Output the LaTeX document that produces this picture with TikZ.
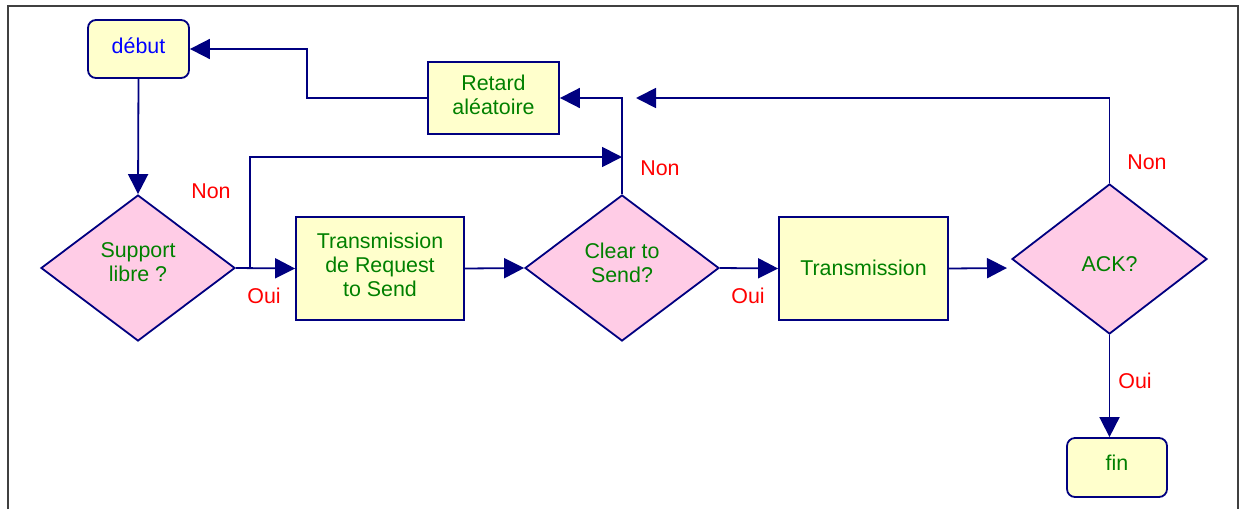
\documentclass[tikz,border=0pt]{standalone}
\usepackage{fontspec}
\setmainfont{Liberation Sans}
\usetikzlibrary{shapes.geometric,arrows.meta}
\definecolor{navy}{RGB}{0,0,128}
\definecolor{boxfill}{RGB}{255,255,204}
\definecolor{decfill}{RGB}{255,204,230}
\definecolor{txtgreen}{RGB}{0,128,0}
\definecolor{lblred}{RGB}{255,0,0}
\begin{document}
\begin{tikzpicture}[x=0.5pt,y=-0.5pt,
  every node/.style={font=\fontsize{10.7}{12}\selectfont},
  every label/.style={font=\fontsize{10.7}{12}\selectfont,text=txtgreen,align=center,inner sep=0pt},
  procbox/.style={draw=navy,line width=0.9pt,fill=boxfill,inner sep=0pt},
  termbox/.style={procbox,rounded corners=4pt},
  decision/.style={diamond,draw=navy,line width=0.9pt,fill=decfill,inner sep=0pt},
  flow/.style={draw=navy,line width=0.9pt,-{Triangle[length=10pt,width=10pt]}},
  answer/.style={text=lblred}]
\useasboundingbox (0,0) rectangle (1245,509);
% outer frame, open at the bottom
\draw[black!75,line width=1.3pt] (8,509) -- (8,6) -- (1238,6) -- (1238,509);

% blocks (captions set as centred labels so they can sit a little off centre)
\node[termbox,minimum width=50.5pt,minimum height=29pt,
      label={[text=blue,yshift=1.5pt]center:début}] (debut) at (138.5,49) {};
\node[decision,minimum width=97pt,minimum height=73pt,
      label={[yshift=2.8pt]center:{Support\\libre ?}}] (sup) at (138,268) {};
\node[procbox,minimum width=84pt,minimum height=51.5pt,
      label={[yshift=1.9pt]center:{Transmission\\de Request\\to Send}}] (rts) at (380,268.5) {};
\node[decision,minimum width=97pt,minimum height=73pt,
      label={[yshift=2.8pt]center:{Clear to\\Send?}}] (cts) at (622,268) {};
\node[procbox,minimum width=65.5pt,minimum height=36pt,
      label={[yshift=1.5pt]center:{Retard\\aléatoire}}] (ret) at (493.5,98) {};
\node[procbox,minimum width=84.5pt,minimum height=51.5pt,
      label={[yshift=0.5pt]center:Transmission}] (tx) at (863.5,268.5) {};
\node[decision,minimum width=97.5pt,minimum height=75pt,
      label={[yshift=-2.5pt]center:ACK?}] (ack) at (1109.5,259) {};
\node[termbox,minimum width=50pt,minimum height=29.5pt,
      label={[yshift=2.5pt]center:fin}] (fin) at (1117,467.5) {};

% junction points of the connectors
\coordinate (split) at (250,268);
\coordinate (nj) at (622,157);
\coordinate (ackin) at (1007,268);
\coordinate (ackret) at (636,98);

% connectors
\draw[flow] (debut.south) -- (sup.north);
\draw[flow] (sup.east) -- (rts.west);
\draw[flow] (split) |- (nj);
\draw[flow] (rts.east) -- (cts.west);
\draw[flow] (cts.north) |- (ret.east);
\draw[flow] (ret.west) -- ++(-120,0) |- (debut.east);
\draw[flow] (cts.east) -- (tx.west);
\draw[flow] (tx.east) -- (ackin);
\draw[flow] (ack.north) |- (ackret);
\draw[flow] (ack.south) -- (ack.south |- fin.north);

% branch labels
\node[answer] (l1) at (211,191) {Non};
\node[answer] (l2) at (264,296) {Oui};
\node[answer] (l3) at (660,168) {Non};
\node[answer] (l4) at (748,296) {Oui};
\node[answer] (l5) at (1147,162) {Non};
\node[answer] (l6) at (1135,381) {Oui};
\end{tikzpicture}
\end{document}
